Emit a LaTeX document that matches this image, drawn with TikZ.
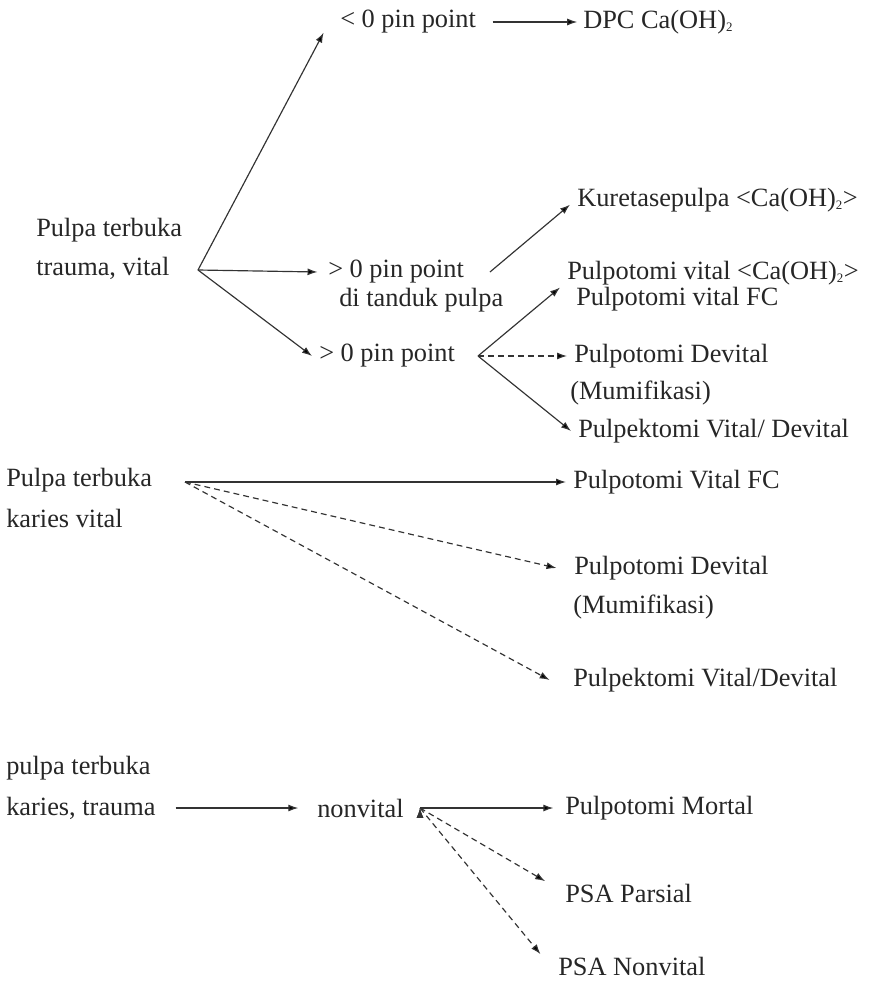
\documentclass[tikz,border=0pt]{standalone}
\usepackage{fontspec}
\setmainfont{Liberation Serif}
\usetikzlibrary{arrows.meta}
\newcommand{\subtwo}{\textsubscript{\fontsize{11}{11}\selectfont 2}}

\begin{document}
\begin{tikzpicture}[x=0.03cm,y=-0.03cm,
    lbl/.style = {anchor=west, inner xsep=6pt, inner ysep=2pt, text=black!85, font=\fontsize{22.5}{26}\selectfont},
    arr/.style = {-{Latex[length=8.5pt,width=6pt]}, line width=1pt, draw=black!80},
    darr/.style = {arr, dash pattern=on 5pt off 3.5pt}]
    \useasboundingbox (0,0) rectangle (868,986);
    % trauma, vital
    \node[lbl] (pta) at (29,230) {Pulpa terbuka};
    \node[lbl] (ptb) at (29,268) {trauma, vital};
    \node[lbl] (lt)  at (333,22) {< 0 pin point};
    \node[lbl] (dpc) at (576,22) {DPC Ca(OH)\subtwo};
    \node[lbl] (gta) at (321,272) {> 0 pin point};
    \node[lbl] (gtb) at (332,300) {di tanduk pulpa};
    \node[lbl] (kur) at (570,200) {Kuretasepulpa <Ca(OH)\subtwo>};
    \node[lbl] (gtc) at (312,356) {> 0 pin point};
    \node[lbl] (pva) at (560,273) {Pulpotomi vital <Ca(OH)\subtwo>};
    \node[lbl] (pvb) at (569,299) {Pulpotomi vital FC};
    \node[lbl] (pda) at (567,356) {Pulpotomi Devital};
    \node[lbl] (pdb) at (563,393) {(Mumifikasi)};
    \node[lbl] (pea) at (571,431) {Pulpektomi Vital/ Devital};
    \coordinate (ft) at (198,270);
    \coordinate (fg) at (478,356);
    % karies vital
    \node[lbl] (pka) at (-1,480) {Pulpa terbuka};
    \node[lbl] (pkb) at (-1,518) {karies vital};
    \node[lbl] (pfc) at (566,482) {Pulpotomi Vital FC};
    \node[lbl] (pdc) at (567,568) {Pulpotomi Devital};
    \node[lbl] (pdd) at (566,607) {(Mumifikasi)};
    \node[lbl] (pec) at (566,680) {Pulpektomi Vital/Devital};
    \coordinate (fk) at (185,482);
    % nonvital
    \node[lbl] (pna) at (-1,768) {pulpa terbuka};
    \node[lbl] (pnb) at (-1,808) {karies, trauma};
    \node[lbl] (nv)  at (310,808) {nonvital};
    \node[lbl] (pm)  at (558,808) {Pulpotomi Mortal};
    \node[lbl] (psp) at (558,893) {PSA Parsial};
    \node[lbl] (psn) at (551,966) {PSA Nonvital};
    \coordinate (fn) at (420,808);
    \path[arr]
        (ft) edge ([xshift=-8pt,yshift=3pt]lt.south west)
        ([xshift=8pt]lt.east) edge ([xshift=1pt]dpc.west)
        (ft) edge ([xshift=-3pt]gta.west)
        ([xshift=16pt]gta.east) edge ([yshift=-4pt]kur.west)
        (ft) edge (gtc.west)
        (fg) edge (pva.south west)
        (fg) edge (pea.west)
        (fk) edge (pfc.west)
        ([xshift=11pt]pnb.east) edge ([xshift=-10pt]nv.west)
        (fn) edge ([xshift=-4pt]pm.west);
    \path[darr]
        (fg) edge (pda.west)
        (fk) edge ([xshift=-9pt]pdc.west)
        (fk) edge ([xshift=-14pt]pec.west)
        (fn) edge ([xshift=-11pt]psp.north west)
        (fn) edge ([xshift=-9pt]psn.north west);
\end{tikzpicture}
\end{document}
